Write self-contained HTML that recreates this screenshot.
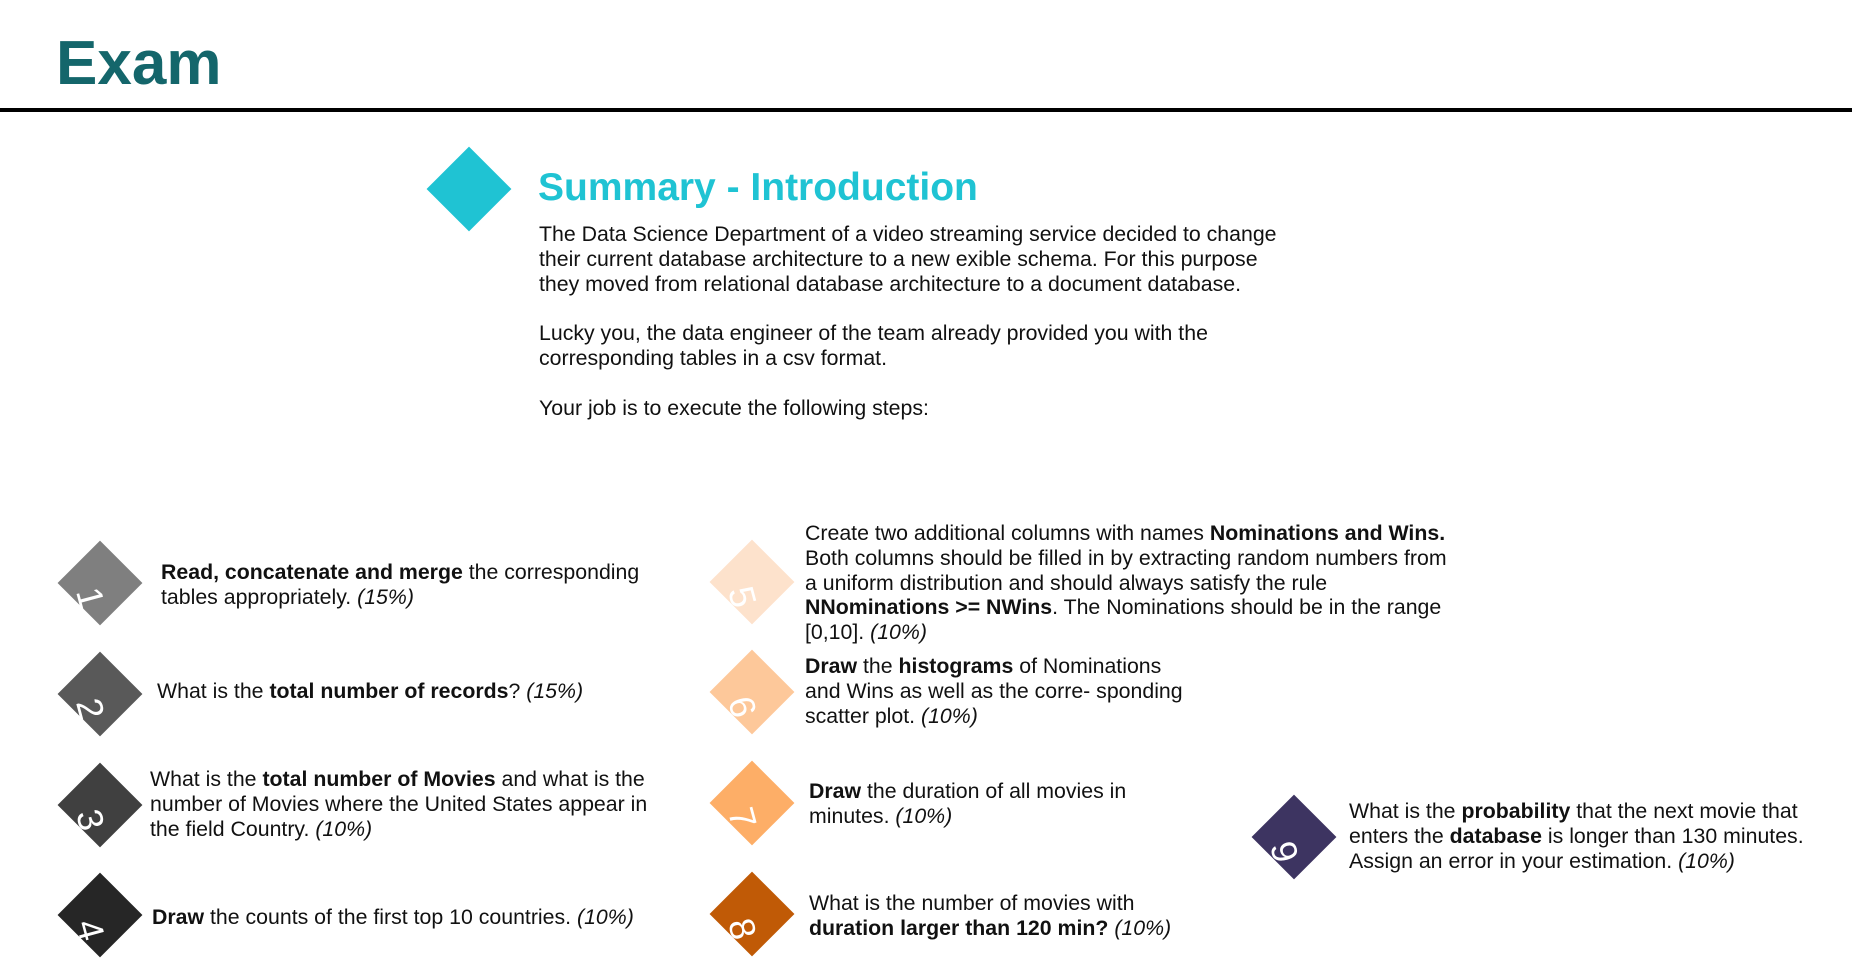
<!DOCTYPE html>
<html><head><meta charset="utf-8"><style>
html,body{margin:0;padding:0;background:#fff;width:1852px;height:979px;overflow:hidden;position:relative;font-family:"Liberation Sans",sans-serif;color:#111;}
.abs{position:absolute;}
.d{position:absolute;width:60px;height:60px;transform:rotate(45deg);}
.n{position:absolute;color:#fff;font-size:36px;font-weight:normal;width:40px;text-align:center;transform:rotate(75deg);line-height:40px;}
.t{position:absolute;font-size:21.3px;line-height:24.8px;white-space:nowrap;}
b{font-weight:bold;}
</style></head><body>
<div class="abs" style="left:56px;top:26px;font-size:62px;font-weight:bold;color:#14666b;line-height:76px;">Exam</div>
<div class="abs" style="left:0;top:108px;width:1852px;height:4px;background:#000;"></div>

<div class="d" style="left:439px;top:159px;background:#1fc3d3;"></div>
<div class="abs" style="left:538px;top:163px;font-size:39px;font-weight:bold;color:#1fc3d3;line-height:50px;">Summary - Introduction</div>
<div class="t" style="left:539px;top:222px;">The Data Science Department of a video streaming service decided to change<br>their current database architecture to a new exible schema. For this purpose<br>they moved from relational database architecture to a document database.<br><br>Lucky you, the data engineer of the team already provided you with the<br>corresponding tables in a csv format.<br><br>Your job is to execute the following steps:</div>

<div class="d" style="left:70px;top:553px;background:#7f7f7f;"></div><div class="n" style="left:70px;top:578px;">1</div>
<div class="t" style="left:161px;top:560px;"><b>Read, concatenate and merge</b> the corresponding<br>tables appropriately. <i>(15%)</i></div>

<div class="d" style="left:70px;top:664px;background:#595959;"></div><div class="n" style="left:70px;top:689px;">2</div>
<div class="t" style="left:157px;top:679px;">What is the <b>total number of records</b>? <i>(15%)</i></div>

<div class="d" style="left:70px;top:775px;background:#404040;"></div><div class="n" style="left:70px;top:800px;">3</div>
<div class="t" style="left:150px;top:767px;">What is the <b>total number of Movies</b> and what is the<br>number of Movies where the United States appear in<br>the field Country. <i>(10%)</i></div>

<div class="d" style="left:70px;top:885px;background:#262626;"></div><div class="n" style="left:70px;top:910px;">4</div>
<div class="t" style="left:152px;top:905px;"><b>Draw</b> the counts of the first top 10 countries. <i>(10%)</i></div>

<div class="d" style="left:722px;top:552px;background:#fde2cc;"></div><div class="n" style="left:722px;top:577px;">5</div>
<div class="t" style="left:805px;top:521px;">Create two additional columns with names <b>Nominations and Wins.</b><br>Both columns should be filled in by extracting random numbers from<br>a uniform distribution and should always satisfy the rule<br><b>NNominations &gt;= NWins</b>. The Nominations should be in the range<br>[0,10]. <i>(10%)</i></div>

<div class="d" style="left:722px;top:662px;background:#fdc89a;"></div><div class="n" style="left:722px;top:687px;">6</div>
<div class="t" style="left:805px;top:654px;"><b>Draw</b> the <b>histograms</b> of Nominations<br>and Wins as well as the corre- sponding<br>scatter plot. <i>(10%)</i></div>

<div class="d" style="left:722px;top:773px;background:#fdae67;"></div><div class="n" style="left:722px;top:798px;">7</div>
<div class="t" style="left:809px;top:779px;"><b>Draw</b> the duration of all movies in<br>minutes. <i>(10%)</i></div>

<div class="d" style="left:722px;top:884px;background:#c05a06;"></div><div class="n" style="left:722px;top:909px;">8</div>
<div class="t" style="left:809px;top:891px;">What is the number of movies with<br><b>duration larger than 120 min?</b> <i>(10%)</i></div>

<div class="d" style="left:1264px;top:807px;background:#3d3461;"></div><div class="n" style="left:1264px;top:832px;">9</div>
<div class="t" style="left:1349px;top:799px;">What is the <b>probability</b> that the next movie that<br>enters the <b>database</b> is longer than 130 minutes.<br>Assign an error in your estimation. <i>(10%)</i></div>
</body></html>
